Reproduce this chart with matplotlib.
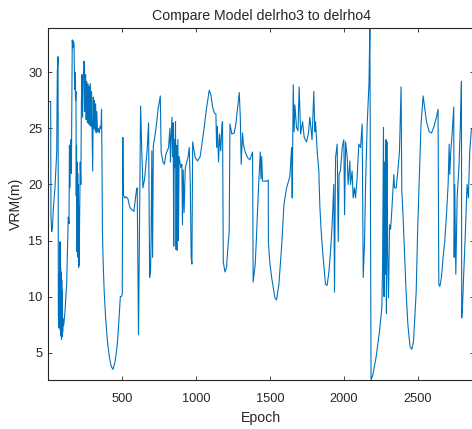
import numpy as np
import matplotlib
matplotlib.use("Agg")
import matplotlib.pyplot as plt

# epoch / VRM values
epoch = [
    0, 18, 20, 25, 30, 36, 47, 59, 63, 68, 70, 73, 76, 78, 81, 83, 85, 87, 89, 91,
    93, 95, 97, 99, 102, 106, 115, 126, 137, 142, 145, 149, 153, 158, 164, 168, 172, 176, 180, 183,
    186, 189, 191, 193, 195, 197, 199, 201, 203, 205, 207, 209, 211, 214, 218, 222, 226, 230, 234, 240,
    243, 247, 250, 254, 258, 262, 266, 270, 274, 278, 282, 286, 290, 294, 298, 302, 306, 310, 314, 318,
    322, 326, 330, 335, 340, 346, 352, 358, 362, 365, 368, 373, 380, 390, 402, 415, 427, 439, 452, 462,
    470, 480, 489, 496, 502, 506, 509, 518, 530, 541, 552, 563, 581, 597, 603, 612, 626, 634, 642, 653,
    670, 680, 684, 687, 693, 697, 702, 707, 712, 730, 745, 759, 765, 777, 787, 797, 815, 824, 828, 832,
    838, 842, 846, 850, 854, 858, 862, 866, 870, 874, 878, 882, 886, 892, 898, 905, 909, 914, 920, 928,
    946, 955, 962, 968, 973, 978, 995, 1011, 1029, 1052, 1074, 1090, 1101, 1113, 1124, 1135, 1140, 1145, 1153, 1160,
    1168, 1176, 1180, 1185, 1196, 1207, 1214, 1225, 1230, 1243, 1259, 1270, 1282, 1293, 1300, 1306, 1315, 1322, 1333, 1349,
    1365, 1383, 1387, 1401, 1410, 1424, 1435, 1440, 1445, 1450, 1455, 1478, 1489, 1490, 1500, 1512, 1534, 1545, 1561, 1579,
    1595, 1613, 1635, 1647, 1651, 1658, 1664, 1669, 1680, 1690, 1698, 1708, 1721, 1732, 1748, 1760, 1770, 1778, 1785, 1797,
    1804, 1809, 1820, 1831, 1838, 1847, 1860, 1876, 1887, 1899, 1910, 1921, 1932, 1937, 1944, 1955, 1962, 1968, 1977, 1989,
    2000, 2005, 2012, 2023, 2029, 2041, 2045, 2056, 2063, 2072, 2079, 2090, 2101, 2113, 2124, 2131, 2140, 2147, 2158, 2170,
    2176, 2184, 2196, 2218, 2241, 2257, 2262, 2268, 2272, 2276, 2280, 2285, 2288, 2291, 2296, 2302, 2309, 2316, 2324, 2338,
    2343, 2354, 2365, 2376, 2387, 2392, 2399, 2410, 2421, 2433, 2448, 2460, 2471, 2489, 2500, 2522, 2536, 2545, 2559, 2577,
    2593, 2608, 2626, 2637, 2642, 2649, 2660, 2671, 2682, 2694, 2705, 2712, 2716, 2723, 2732, 2739, 2743, 2746, 2750, 2757,
    2766, 2779, 2788, 2795, 2797, 2802, 2811, 2822, 2833, 2842, 2851, 2862,
]
vrm = [
    27.4, 27.4, 17.2, 15.8, 16.2, 17.8, 19.7, 22.9, 30.1, 31.4, 8.4, 7.2, 12.0, 7.5, 14.9, 7.0, 12.6, 6.5, 12.2, 6.2,
    11.5, 6.4, 10.5, 6.8, 8.0, 7.4, 8.7, 11.1, 17.1, 16.5, 23.5, 19.7, 24.0, 21.0, 32.9, 32.2, 32.8, 32.5, 28.5, 30.0,
    27.5, 28.3, 19.0, 23.5, 14.0, 22.0, 15.0, 21.0, 13.5, 20.0, 12.6, 18.0, 12.8, 17.5, 22.0, 20.0, 27.5, 29.8, 26.0, 30.0,
    31.0, 30.6, 26.5, 29.8, 25.8, 29.2, 25.5, 29.0, 25.4, 28.8, 25.3, 29.0, 25.2, 28.3, 25.0, 21.2, 27.8, 25.0, 27.5, 24.8,
    27.2, 24.6, 26.5, 24.7, 25.0, 24.6, 25.2, 25.0, 26.7, 22.0, 15.8, 13.0, 10.4, 8.0, 6.0, 4.6, 3.8, 3.5, 4.1, 5.0,
    6.0, 8.0, 10.0, 10.0, 10.2, 24.2, 19.1, 18.8, 18.9, 18.7, 18.0, 17.8, 17.6, 19.4, 19.7, 6.6, 27.0, 23.0, 19.7, 20.5,
    23.0, 25.5, 18.0, 11.7, 12.2, 15.0, 23.0, 13.5, 23.4, 25.0, 26.8, 27.9, 22.9, 22.0, 21.8, 22.7, 23.3, 25.0, 22.0, 24.0,
    26.0, 22.5, 25.5, 14.5, 24.0, 21.5, 25.6, 14.2, 23.5, 14.1, 24.0, 15.0, 22.5, 22.0, 21.5, 21.8, 16.4, 21.3, 17.5, 21.5,
    22.4, 23.3, 20.0, 13.5, 12.9, 23.8, 22.4, 22.1, 22.5, 24.7, 27.0, 28.4, 28.0, 26.9, 26.4, 26.3, 23.3, 25.2, 22.0, 24.5,
    23.0, 25.4, 25.6, 13.1, 12.2, 12.6, 14.0, 15.8, 25.4, 24.5, 24.6, 25.4, 26.9, 28.2, 26.0, 21.8, 24.6, 23.5, 22.9, 22.4,
    22.2, 22.9, 11.3, 12.9, 15.5, 20.0, 22.9, 20.5, 22.5, 20.3, 20.3, 20.3, 20.4, 14.8, 13.0, 11.7, 9.9, 9.7, 11.1, 14.4,
    18.2, 19.7, 20.7, 23.3, 18.8, 28.9, 24.7, 27.1, 25.1, 24.8, 28.7, 24.5, 25.6, 24.2, 23.8, 24.5, 26.0, 25.0, 24.0, 28.3,
    24.7, 25.6, 22.9, 21.2, 18.0, 15.8, 13.5, 11.1, 11.0, 12.2, 14.0, 16.4, 20.0, 10.4, 22.4, 23.6, 14.9, 21.0, 21.2, 23.3,
    24.0, 17.3, 23.8, 22.4, 20.0, 22.1, 20.0, 21.2, 18.8, 19.7, 18.8, 20.6, 23.6, 23.3, 25.4, 11.7, 14.9, 20.0, 25.4, 29.0,
    34.0, 2.6, 3.0, 4.6, 6.9, 9.0, 12.9, 25.1, 10.0, 22.0, 12.0, 24.0, 8.5, 23.8, 14.0, 9.9, 16.4, 16.0, 17.6, 20.9,
    19.7, 19.7, 21.2, 22.9, 28.7, 19.4, 17.6, 14.0, 10.4, 7.5, 5.5, 5.3, 6.0, 10.4, 16.4, 25.4, 27.9, 27.0, 25.6, 24.7,
    24.6, 25.1, 26.0, 26.7, 11.1, 10.9, 11.7, 13.5, 14.9, 17.3, 20.0, 23.6, 20.9, 22.9, 24.5, 26.0, 26.9, 13.5, 20.0, 12.0,
    18.8, 21.8, 25.4, 29.2, 8.1, 9.0, 12.2, 15.8, 20.0, 18.8, 22.9, 24.9,
]
x_ticks = [500, 1000, 1500, 2000, 2500]
y_ticks = [5, 10, 15, 20, 25, 30]

dark = (0.15, 0.15, 0.15)
plt.rcParams['font.family'] = ['Liberation Sans', 'DejaVu Sans']

fig = plt.figure(figsize=(4.72, 4.29), dpi=100)
# right edge of the box sits just past the image border, as in the reference
ax = fig.add_axes([48 / 472, 1 - 380 / 429, (474 - 48) / 472, (380 - 28) / 429])

ax.plot(epoch, vrm, color='#0072BD', linewidth=0.8)

ax.set_xlim(0, 2880)
ax.set_ylim(2.56, 33.96)
ax.set_xticks(x_ticks)
ax.set_yticks(y_ticks)
ax.tick_params(direction='in', length=3, width=0.6, colors=dark, labelsize=9.2,
               top=True, right=True, labeltop=False, labelright=False)
ax.tick_params(axis='x', pad=9.5)
ax.tick_params(axis='y', pad=4)
for s in ax.spines.values():
    s.set_color(dark)
    s.set_linewidth(0.8)

ax.set_xlabel("Epoch", fontsize=10.2, color=dark, labelpad=4)
ax.set_ylabel("VRM(m)", fontsize=10.2, color=dark, labelpad=4)
ax.set_title("Compare Model delrho3 to delrho4", fontsize=10.2, color=dark, pad=6)

fig.savefig("out.png", dpi=100)
